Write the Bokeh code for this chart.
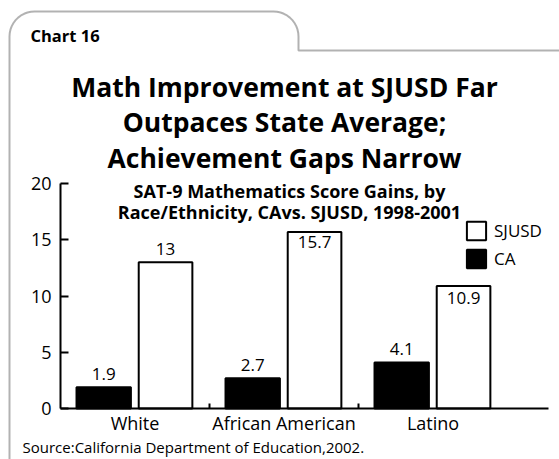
import numpy as np
from bokeh.plotting import figure
from bokeh.models import (ColumnDataSource, Range1d, FixedTicker, Label,
                          Legend, LegendItem, PolyAnnotation)
from bokeh.core.properties import value
from bokeh.embed import file_html
from bokeh.resources import INLINE

# ---------------- data ----------------
categories = ["White", "African American", "Latino"]
ca_gains = [1.9, 2.7, 4.1]
sjusd_gains = [13.0, 15.7, 10.9]
ca_labels = ["1.9", "2.7", "4.1"]
sjusd_labels = ["13", "15.7", "10.9"]
y_ticks = [0, 5, 10, 15, 20]

chart_no = "Chart 16"
title_lines = ["Math Improvement at SJUSD Far",
               "Outpaces State Average;",
               "Achievement Gaps Narrow"]
subtitle_lines = ["SAT-9 Mathematics Score Gains, by",
                  "Race/Ethnicity, CAvs. SJUSD, 1998-2001"]
source_text = "Source:California Department of Education,2002."

# ---------------- layout helpers ----------------
W, H = 559, 459
FONT = "Open Sans"
CAT_PX = 149.0                 # pixels per category
Y_PX = 225.0 / 20.0            # pixels per unit on the y axis
PX_LEFT, PX_BOTTOM = 60, 408   # canvas position of the data origin
PX_AXIS_END = 548


def dx(px):
    return (px - PX_LEFT) / CAT_PX


def dy(py):
    return (PX_BOTTOM - py) / Y_PX


p = figure(width=W, height=H, output_backend="svg", toolbar_location=None,
           x_range=Range1d(dx(0), dx(W)), y_range=Range1d(dy(H), dy(0)),
           min_border=0, min_border_left=0, min_border_right=0,
           min_border_top=0, min_border_bottom=0, title=None)
p.background_fill_color = "white"
p.border_fill_color = "white"
p.outline_line_color = None
p.xgrid.visible = False
p.ygrid.visible = False

# ---------------- bars ----------------
idx = np.arange(len(categories))
ca_src = ColumnDataSource(dict(x=idx + 0.29, top=ca_gains, label=ca_labels,
                               off=[-13, -13, -13]))
sj_src = ColumnDataSource(dict(x=idx + 0.705, top=sjusd_gains, label=sjusd_labels,
                               off=[-13, 10, 12]))
r_ca = p.vbar(x="x", top="top", bottom=0, width=0.365, source=ca_src,
              fill_color="black", line_color="black", line_width=2)
r_sj = p.vbar(x="x", top="top", bottom=0, width=0.36, source=sj_src,
              fill_color="white", line_color="black", line_width=2)

for src in (ca_src, sj_src):
    p.text(x="x", y="top", text="label", source=src, y_offset="off",
           text_align="center", text_baseline="middle",
           text_font=value(FONT), text_font_size="17px", text_color="black")

# ---------------- axes ----------------
ya = p.yaxis[0]
ya.fixed_location = 0
ya.bounds = (0, 20)
ya.ticker = FixedTicker(ticks=y_ticks)
ya.axis_line_width = 2
ya.major_tick_line_width = 2
ya.major_tick_in = 8
ya.major_tick_out = 0
ya.minor_tick_line_color = None
ya.major_label_standoff = 9
ya.major_label_text_font = FONT
ya.major_label_text_font_size = "18px"
ya.major_label_text_color = "black"
ya.axis_line_color = "black"

xa = p.xaxis[0]
xa.fixed_location = 0
xa.bounds = (0, dx(PX_AXIS_END))
xa.ticker = FixedTicker(ticks=list(idx + 0.5), minor_ticks=[1, 2])
xa.major_label_overrides = {float(i + 0.5): c for i, c in enumerate(categories)}
xa.axis_line_width = 2
xa.major_tick_line_color = None
xa.minor_tick_in = 5
xa.minor_tick_out = 0
xa.minor_tick_line_width = 2
xa.minor_tick_line_color = "black"
xa.major_label_standoff = -4
xa.major_label_text_font = FONT
xa.major_label_text_font_size = "18px"
xa.major_label_text_color = "black"
xa.axis_line_color = "black"

# ---------------- legend ----------------
legend = Legend(items=[LegendItem(label="SJUSD", renderers=[r_sj]),
                       LegendItem(label="CA", renderers=[r_ca])],
                location=(464, H - 270), orientation="vertical",
                glyph_width=24, glyph_height=23, label_height=23,
                spacing=5, padding=0, margin=0, label_standoff=6,
                border_line_color=None, background_fill_alpha=0,
                label_text_font=FONT, label_text_font_size="17px",
                label_text_color="black")
p.add_layout(legend)

# ---------------- frame (tab outline) ----------------
r = 25
a1 = np.linspace(np.pi, np.pi / 2, 12)
a2 = np.linspace(np.pi / 2, 0, 12)
px_pts = [9, 9] + list(34 + r * np.cos(a1)) + list(273 + r * np.cos(a2)) + [298, 620, 620]
py_pts = [520, 36] + list(36 - r * np.sin(a1)) + list(36 - r * np.sin(a2)) + [50, 50, 520]
p.add_layout(PolyAnnotation(xs=[dx(v) for v in px_pts], ys=[dy(v) for v in py_pts],
                            fill_alpha=0, line_color="black", line_width=2))

# ---------------- texts ----------------
p.add_layout(Label(x=dx(30), y=dy(35), text=chart_no, text_font=FONT,
                   text_font_style="bold", text_font_size="16.5px",
                   text_color="black", text_align="left", text_baseline="alphabetic"))
title_base = [86, 121, 157]
for t, b in zip(title_lines, title_base):
    p.add_layout(Label(x=dx(284), y=dy(b), text=t, text_font=FONT,
                       text_font_style="bold", text_font_size="26.5px",
                       text_color="black", text_align="center",
                       text_baseline="alphabetic"))
for i, t in enumerate(subtitle_lines):
    p.add_layout(Label(x=dx(289), y=dy(190 + 21 * i), text=t, text_font=FONT,
                       text_font_style="bold", text_font_size="18px",
                       text_color="black", text_align="center",
                       text_baseline="alphabetic"))
p.add_layout(Label(x=dx(22), y=dy(446), text=source_text, text_font=FONT,
                   text_font_size="15px", text_color="black", text_align="left",
                   text_baseline="alphabetic"))

open("out.html", "w").write(file_html(p, INLINE))
